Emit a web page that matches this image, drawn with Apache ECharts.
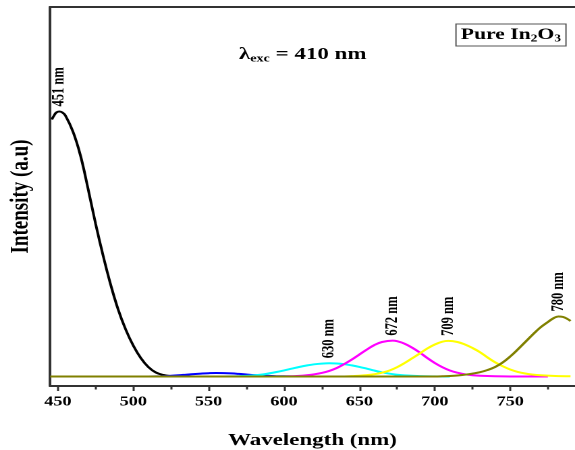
<!DOCTYPE html>
<html>
<head>
<meta charset="utf-8">
<script src="https://cdn.jsdelivr.net/npm/echarts@6/dist/echarts.min.js"></script>
<style>
html,body{margin:0;padding:0;background:#fff;overflow:hidden;}
#c{width:426px;height:450px;transform:scaleX(1.3498);transform-origin:0 0;}
</style>
</head>
<body>
<div id="c"></div>
<script>
// ---- data ----
const xMajorTicks = [450, 500, 550, 600, 650, 700, 750];
const xMinorTicks = [475, 525, 575, 625, 675, 725, 775];

const black = [[446,257],[447.5,261],[449,264],[451,265],[453,264],[455,261],[460,245],[465,221],[470,188],[475,153],[480,121],[485,92],[490,67],[495,47],[500,31],[505,18.5],[510,9.5],[515,4],[520,1.5],[525,0.5],[530,0],[560,0]];
const blue = [[510,0],[515,0.1],[520,0.3],[525,0.7],[530,1.2],[535,1.8],[540,2.4],[545,2.9],[550,3.3],[555,3.5],[560,3.4],[565,3.1],[570,2.6],[575,2],[580,1.4],[585,0.9],[590,0.6],[595,0.3],[600,0.2],[610,0],[650,0]];
const cyan = [[560,0],[565,0.1],[570,0.3],[575,0.6],[580,1.1],[585,1.9],[590,3.1],[595,4.5],[600,6.1],[605,7.8],[610,9.5],[615,11],[620,12.2],[625,12.9],[630,13.2],[635,13],[640,12.3],[645,11.1],[650,9.6],[655,7.8],[660,5.9],[665,4.2],[670,2.8],[675,1.8],[680,1.1],[690,0.4],[700,0.1],[710,0]];
const magenta = [[600,0],[605,0.3],[610,0.6],[615,1.2],[620,2.2],[625,3.6],[630,5.6],[635,8.5],[640,12.5],[645,17],[650,22],[655,27],[660,31.5],[665,34.5],[672,35.9],[675,35.3],[680,32.8],[685,28.8],[690,24],[695,18.5],[700,13.5],[705,9.3],[710,6],[715,3.8],[720,2.2],[725,1.2],[730,0.7],[740,0.2],[750,0],[775,0]];
const yellow = [[640,0],[645,0.4],[650,0.8],[655,1.4],[660,2.3],[665,3.8],[670,6],[675,9.3],[680,13.5],[685,18.2],[690,23],[695,28],[700,32],[705,34.8],[709,35.6],[715,34.5],[720,32],[725,28.5],[730,24.3],[735,19],[740,14.2],[745,10.3],[750,7],[755,4.6],[760,3],[765,1.9],[770,1.2],[780,0.5],[790,0.2]];
const olive = [[445,0],[700,0],[705,0.2],[710,0.5],[715,1],[720,1.8],[725,2.9],[730,4.3],[735,6.5],[740,9.5],[745,14],[750,20],[755,27],[760,34.5],[765,42],[770,49],[775,54.5],[779,58.5],[782,60],[785,59.6],[788,57.5],[790,55.5]];

const peakLabels = { black: '451 nm', cyan: '630 nm', magenta: '672 nm', yellow: '709 nm', olive: '780 nm' };

// ---- chart ----
const FONT = '"Liberation Serif","Times New Roman",serif';
const chart = echarts.init(document.getElementById('c'), null, { renderer: 'canvas', devicePixelRatio: 2 });

function peakMark(data, text) {
  if (!text) return undefined;
  let mi = 0;
  data.forEach((d, i) => { if (d[1] > data[mi][1]) mi = i; });
  return {
    symbol: 'circle', symbolSize: 0, silent: true, animation: false,
    itemStyle: { color: 'rgba(0,0,0,0)' },
    label: {
      show: true, formatter: text, position: 'top', distance: 5, rotate: 90,
      align: 'left', verticalAlign: 'middle',
      fontFamily: FONT, fontWeight: 'bold', fontSize: 12.5, color: '#000'
    },
    data: [{ coord: data[mi] }]
  };
}

function line(name, data, color, text) {
  return {
    name, type: 'line', xAxisIndex: 0, yAxisIndex: 0,
    data: data,
    smooth: 0.4, showSymbol: false, symbol: 'none',
    lineStyle: { color, width: 2 }, itemStyle: { color },
    markPoint: peakMark(data, text),
    silent: true, animation: false, z: 2
  };
}

const xMin = 444.8, xMax = 793;
const axisColor = '#333';

chart.setOption({
  animation: false,
  backgroundColor: '#fff',
  grid: { left: 37.04, right: 0, top: 7, bottom: 64, containLabel: false, outerBoundsMode: 'none' },
  xAxis: [
    {
      type: 'value', min: xMin, max: xMax, position: 'bottom',
      axisLine: { onZero: false, lineStyle: { color: axisColor, width: 2 } },
      axisTick: { customValues: xMajorTicks, length: 5, lineStyle: { color: axisColor, width: 1.5 } },
      axisLabel: { customValues: xMajorTicks, fontFamily: FONT, fontWeight: 'bold', fontSize: 13.5, color: '#000', margin: 9 },
      splitLine: { show: false },
      name: 'Wavelength (nm)', nameLocation: 'middle', nameGap: 46,
      nameTextStyle: { fontFamily: FONT, fontWeight: 'bold', fontSize: 17, color: '#000' }
    },
    {
      type: 'value', min: xMin, max: xMax, position: 'bottom',
      axisLine: { show: false, onZero: false },
      axisTick: { customValues: xMinorTicks, length: 3.5, lineStyle: { color: axisColor, width: 1.5 } },
      axisLabel: { show: false }, splitLine: { show: false }
    },
    {
      type: 'value', min: xMin, max: xMax, position: 'top',
      axisLine: { onZero: false, lineStyle: { color: axisColor, width: 2 } },
      axisTick: { show: false }, axisLabel: { show: false }, splitLine: { show: false }
    }
  ],
  yAxis: {
    type: 'value', min: -9.5, max: 369.5,
    axisLine: { show: true, onZero: false, lineStyle: { color: axisColor, width: 2 } },
    axisTick: { show: false }, axisLabel: { show: false }, splitLine: { show: false },
    name: 'Intensity (a.u)', nameLocation: 'middle', nameGap: 12,
    nameTextStyle: { fontFamily: FONT, fontWeight: 'bold', fontSize: 19, color: '#000' }
  },
  graphic: [
    {
      type: 'text', left: 177, top: 46,
      style: {
        text: '{l|λ}{s|exc}{t| = 410 nm}',
        rich: {
          l: { fontFamily: FONT, fontWeight: 'bold', fontSize: 17, fill: '#000', color: '#000' },
          s: { fontFamily: FONT, fontWeight: 'bold', fontSize: 10.5, fill: '#000', color: '#000', padding: [9, 0, 0, 0] },
          t: { fontFamily: FONT, fontWeight: 'bold', fontSize: 17, fill: '#000', color: '#000' }
        }
      }
    },
    {
      type: 'rect', shape: { x: 337.8, y: 24, width: 81.5, height: 22 },
      style: { fill: '#fff', stroke: '#555', lineWidth: 1 }
    },
    {
      type: 'text', x: 378.5, y: 35,
      style: {
        text: '{a|Pure In}{b|2}{a|O}{b|3}', align: 'center', verticalAlign: 'middle',
        rich: {
          a: { fontFamily: FONT, fontWeight: 'bold', fontSize: 16, fill: '#000', color: '#000' },
          b: { fontFamily: FONT, fontWeight: 'bold', fontSize: 10, fill: '#000', color: '#000', padding: [8, 0, 0, 0] }
        }
      }
    }
  ],
  series: [
    line('black', black, '#000000', peakLabels.black),
    line('blue', blue, '#0000ff', null),
    line('cyan', cyan, '#00ffff', peakLabels.cyan),
    line('magenta', magenta, '#ff00ff', peakLabels.magenta),
    line('yellow', yellow, '#ffff00', peakLabels.yellow),
    line('olive', olive, '#808000', peakLabels.olive)
  ]
});
</script>
</body>
</html>
